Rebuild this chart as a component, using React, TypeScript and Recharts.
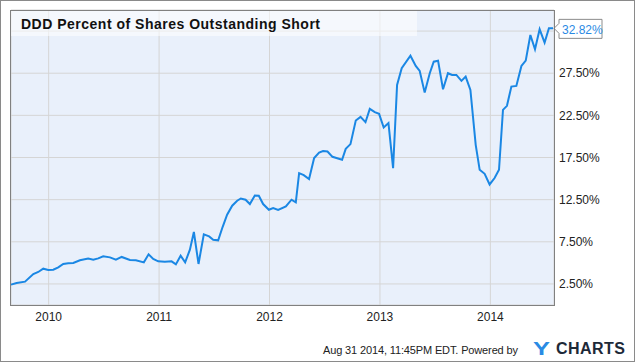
import React from "react";
import {
  LineChart,
  Line,
  XAxis,
  YAxis,
  CartesianGrid,
  ReferenceDot,
} from "recharts";

// short interest dates (decimal years)
const dates = [
  2009.659, 2009.71, 2009.786, 2009.861, 2009.906, 2009.951, 2009.996, 2010.042,
  2010.087, 2010.132, 2010.177, 2010.223, 2010.283, 2010.358, 2010.404, 2010.449,
  2010.494, 2010.555, 2010.609, 2010.661, 2010.736, 2010.79, 2010.862, 2010.905,
  2010.947, 2010.992, 2011.052, 2011.113, 2011.152, 2011.195, 2011.236, 2011.279,
  2011.315, 2011.357, 2011.405, 2011.453, 2011.49, 2011.535, 2011.575, 2011.616,
  2011.662, 2011.707, 2011.74, 2011.783, 2011.822, 2011.867, 2011.903, 2011.942,
  2011.994, 2012.033, 2012.078, 2012.148, 2012.199, 2012.238, 2012.268, 2012.31,
  2012.358, 2012.404, 2012.449, 2012.485, 2012.525, 2012.57, 2012.657, 2012.69,
  2012.733, 2012.781, 2012.824, 2012.869, 2012.908, 2012.953, 2012.992, 2013.034,
  2013.077, 2013.119, 2013.155, 2013.197, 2013.276, 2013.324, 2013.36, 2013.405,
  2013.451, 2013.487, 2013.526, 2013.571, 2013.616, 2013.653, 2013.692, 2013.738,
  2013.776, 2013.819, 2013.867, 2013.903, 2013.948, 2013.993, 2014.038, 2014.078,
  2014.114, 2014.15, 2014.19, 2014.235, 2014.281, 2014.32, 2014.362, 2014.404,
  2014.446, 2014.491, 2014.53, 2014.567,
];

// percent of shares outstanding short
const shortPct = [
  2.42, 2.62, 2.77, 3.68, 3.92, 4.31, 4.16, 4.19, 4.47, 4.87, 4.94, 4.99, 5.3,
  5.5, 5.38, 5.53, 5.77, 5.65, 5.38, 5.7, 5.34, 5.3, 5.06, 6.01, 5.46, 5.18,
  5.14, 5.18, 4.82, 5.85, 5.06, 6.56, 8.66, 4.87, 8.38, 8.14, 7.75, 7.67, 9.25,
  10.71, 11.78, 12.37, 12.64, 12.49, 11.98, 13.0, 12.96, 11.98, 11.3, 11.5,
  11.27, 11.69, 12.49, 12.17, 15.65, 15.41, 14.94, 17.43, 18.09, 18.26, 18.21,
  17.58, 17.23, 18.53, 19.09, 21.88, 22.32, 21.69, 23.27, 22.88, 22.68, 21.05,
  21.58, 16.24, 26.11, 28.09, 29.58, 28.36, 27.77, 25.2, 27.5, 28.87, 28.99,
  25.6, 27.5, 27.3, 27.3, 26.59, 27.1, 25.52, 19.0, 16.04, 15.57, 14.3, 15.06,
  16.04, 23.15, 23.63, 25.91, 25.99, 28.36, 28.99, 32.04, 30.34, 32.71, 31.13,
  32.83, 32.82,
];

const yearTicks = [2010, 2011, 2012, 2013, 2014];
const pctTicks = [2.5, 7.5, 12.5, 17.5, 22.5, 27.5, 32.5];

const data = dates.map((t, i) => ({ t, v: shortPct[i] }));
const last = data[data.length - 1];

const FONT = "Arial, 'Liberation Sans', Helvetica, sans-serif";

function LastLabel(props: any) {
  const { cx, cy } = props;
  const path = `M${cx + 1},${cy} L${cx + 6},${cy - 5} L${cx + 6},${cy - 9} L${cx + 49},${cy - 9} L${cx + 49},${cy + 10} L${cx + 6},${cy + 10} L${cx + 6},${cy + 5} Z`;
  return (
    <g>
      <path d={path} fill="#fff" stroke="#8c8c8c" strokeWidth={1} />
      <text x={cx + 9} y={cy + 6} fontSize={12} fontFamily={FONT} fill="#2a8ae4">
        {last.v.toFixed(2)}%
      </text>
    </g>
  );
}

export default function App() {
  return (
    <div style={{ position: "relative", width: 635, height: 362, background: "#fff" }}>
      <style>{`body{margin:0}`}</style>
      <LineChart
        width={635}
        height={362}
        data={data}
        margin={{ top: 10, right: 0, bottom: 0, left: 11 }}
      >
        <CartesianGrid stroke="#d5d5d5" fill="#e9f0fb" fillOpacity={1} />
        <XAxis
          type="number"
          dataKey="t"
          domain={[2009.659, 2014.576]}
          ticks={yearTicks}
          tickFormatter={(v) => String(v)}
          axisLine={false}
          tickLine={false}
          tickSize={0}
          tickMargin={7}
          height={57}
          tick={{ fontSize: 12, fill: "#222", fontFamily: FONT }}
        />
        <YAxis
          orientation="right"
          domain={[0, 35]}
          ticks={pctTicks}
          tickFormatter={(v) => (v === 32.5 ? "" : `${v.toFixed(2)}%`)}
          axisLine={false}
          tickLine={false}
          tickSize={0}
          tickMargin={5}
          width={81}
          tick={{ fontSize: 12, fill: "#222", fontFamily: FONT }}
        />
        <Line
          type="linear"
          dataKey="v"
          stroke="#1a87e4"
          strokeWidth={2}
          dot={false}
          isAnimationActive={false}
        />
        <ReferenceDot x={last.t} y={last.v} ifOverflow="visible" shape={LastLabel} />
      </LineChart>
      <svg
        width={635}
        height={362}
        style={{ position: "absolute", left: 0, top: 0, pointerEvents: "none" }}
      >
        <rect x={11} y={11} width={406} height={25} fill="#fff" fillOpacity={0.55} />
        <text
          x={21}
          y={29}
          fontSize={14}
          fontWeight="bold"
          fontFamily={FONT}
          fill="#111"
          textLength={299}
        >
          DDD Percent of Shares Outstanding Short
        </text>
        <rect x={10.5} y={10.5} width={544} height={295} fill="none" stroke="#808080" />
        <text x={323} y={354} fontSize={11} fontFamily={FONT} fill="#222" textLength={195}>
          Aug 31 2014, 11:45PM EDT.  Powered by
        </text>
        <text
          x={533}
          y={355}
          fontSize={19}
          fontWeight="bold"
          fontFamily={FONT}
          fill="#2a8be4"
          textLength={17}
          lengthAdjust="spacingAndGlyphs"
        >
          Y
        </text>
        <text
          x={556}
          y={354}
          fontSize={16}
          fontWeight="bold"
          fontFamily={FONT}
          fill="#1d2938"
          textLength={69}
          lengthAdjust="spacing"
        >
          CHARTS
        </text>
        <rect x={0.5} y={0.5} width={634} height={361} fill="none" stroke="#8a8a8a" />
      </svg>
    </div>
  );
}
